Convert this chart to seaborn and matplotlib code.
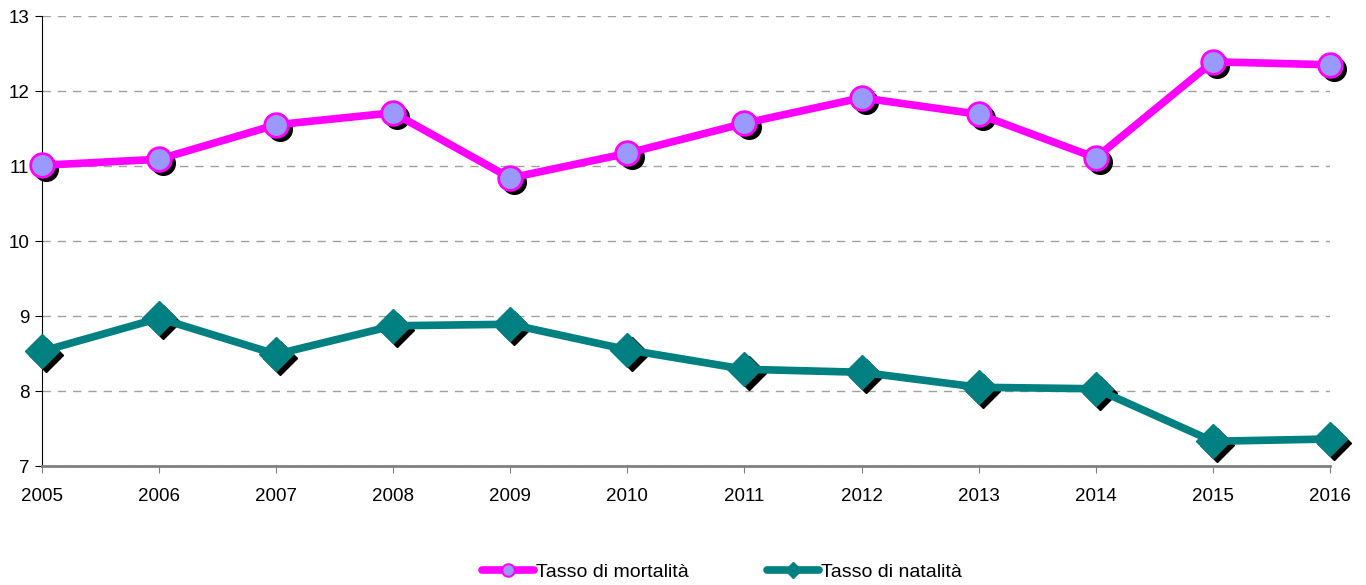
import matplotlib
matplotlib.use("Agg")
import matplotlib.pyplot as plt
import matplotlib.transforms as mtransforms
from matplotlib.lines import Line2D
import seaborn as sns
import pandas as pd

# --- DATA ---
years = [2005, 2006, 2007, 2008, 2009, 2010, 2011, 2012, 2013, 2014, 2015, 2016]
mortalita = [11.01, 11.09, 11.55, 11.71, 10.84, 11.17, 11.57, 11.91, 11.69, 11.11, 12.39, 12.35]
natalita = [8.53, 8.97, 8.49, 8.87, 8.89, 8.55, 8.29, 8.25, 8.05, 8.03, 7.33, 7.36]

MAGENTA = "#ff00ff"
LILAC = "#9999ff"
TEAL = "#008080"

df = pd.DataFrame({"anno": years, "mort": mortalita, "nat": natalita})

sns.set_style("white")
plt.rcParams["font.family"] = ["Liberation Sans", "DejaVu Sans"]
plt.rcParams["text.color"] = "black"
plt.rcParams["xtick.labelcolor"] = "black"
plt.rcParams["ytick.labelcolor"] = "black"

fig = plt.figure(figsize=(13.66, 5.85), dpi=100)
ax = fig.add_axes([0.0307, 0.2034, 0.9429, 0.7692])

# shadow offset (black copies of the markers, shifted right/down)
shadow = mtransforms.offset_copy(ax.transData, fig=fig, x=3, y=-3, units="points")

ax.plot(df["anno"], df["mort"], "o", ms=17, color="black", transform=shadow,
        zorder=2, clip_on=False)
ax.plot(df["anno"], df["nat"], "D", ms=17, color="black", transform=shadow,
        zorder=2, clip_on=False)

sns.lineplot(data=df, x="anno", y="mort", ax=ax, color=MAGENTA, linewidth=5.5,
             marker="o", markersize=17, markerfacecolor=LILAC,
             markeredgecolor=MAGENTA, markeredgewidth=2, zorder=3, clip_on=False)
sns.lineplot(data=df, x="anno", y="nat", ax=ax, color=TEAL, linewidth=5.5,
             marker="D", markersize=17, markerfacecolor=TEAL,
             markeredgecolor=TEAL, markeredgewidth=1, zorder=3, clip_on=False)

ax.set_xlim(2005, 2016)
ax.set_ylim(7, 13)
ax.set_xticks(years)
ax.set_yticks(range(7, 14))
ax.set_xlabel("")
ax.set_ylabel("")
ax.yaxis.grid(True, color="#a0a0a0", linestyle=(0, (6, 5)), linewidth=1)
ax.xaxis.grid(False)
ax.set_axisbelow(True)

for s in ["top", "right"]:
    ax.spines[s].set_visible(False)
ax.spines["left"].set_color("black")
ax.spines["bottom"].set_color("#808080")
ax.spines["bottom"].set_linewidth(2)
ax.tick_params(axis="both", labelsize=13.5, length=5, direction="out",
               bottom=True, left=True)
ax.tick_params(axis="x", color="#808080", pad=11)
ax.tick_params(axis="y", color="black", pad=4)

handles = [
    Line2D([], [], color=MAGENTA, linewidth=5.5, marker="o", markersize=9,
           markerfacecolor=LILAC, markeredgecolor=MAGENTA, markeredgewidth=1.5),
    Line2D([], [], color=TEAL, linewidth=5.5, marker="D", markersize=8,
           markerfacecolor=TEAL, markeredgecolor=TEAL),
]
fig.legend(handles, ["Tasso di mortalità", "Tasso di natalità"],
           loc="center", bbox_to_anchor=(0.5286, 0.022), ncol=2, frameon=False,
           fontsize=14, handlelength=2.7, handletextpad=0.1, columnspacing=4.0)

fig.savefig("out.png", dpi=100, facecolor="white")
